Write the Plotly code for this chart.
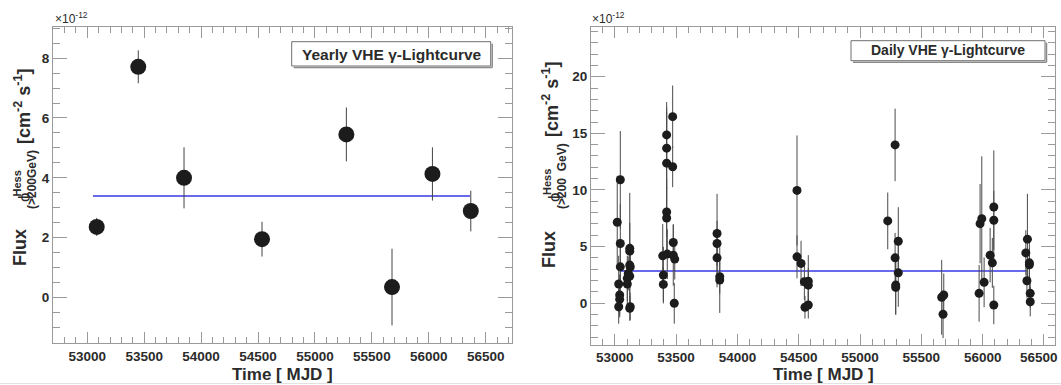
import plotly.graph_objects as go

# ---------------- data ----------------
# Yearly light curve (flux in units of 1e-12 cm^-2 s^-1)
yearly_mjd = [53083, 53448, 53850, 54535, 55276, 55677, 56032, 56369]
yearly_flux = [2.36, 7.71, 4.00, 1.95, 5.45, 0.35, 4.13, 2.89]
yearly_err = [0.30, 0.55, 1.02, 0.58, 0.90, 1.28, 0.89, 0.68]
yearly_const = 3.39
yearly_const_range = [53050, 56362]

# Daily light curve
daily_mjd = [
    53020, 53045, 53045, 53045, 53032, 53040, 53040, 53032,
    53122, 53122, 53122, 53126, 53110, 53102, 53102, 53122, 53122, 53126,
    53472, 53423, 53423, 53423, 53472, 53423, 53423, 53477, 53391, 53428,
    53477, 53489, 53396, 53396, 53485,
    53834, 53834, 53834, 53856, 53856,
    54486, 54486, 54519, 54546, 54578, 54578, 54551, 54578,
    55226, 55286, 55312, 55286, 55312, 55291, 55291,
    55666, 55683, 55677,
    55979, 55993, 55971, 56012, 56061, 56079, 56091, 56091, 56091,
    56365, 56352, 56381, 56381, 56361, 56388, 56388,
]
daily_flux = [
    7.15, 10.9, 5.28, 3.22, 1.70, 0.73, 0.35, -0.30,
    4.85, 4.60, 3.37, 3.20, 2.64, 2.20, 1.70, 2.40, -0.44, -0.30,
    16.47, 14.86, 13.69, 12.37, 12.05, 8.06, 7.53, 5.37, 4.19, 4.34,
    4.25, 3.90, 2.49, 1.67, 0.00,
    6.16, 5.28, 4.01, 2.34, 2.05,
    9.96, 4.10, 3.52, 1.90, 1.95, 1.60, -0.35, -0.15,
    7.27, 13.98, 5.48, 4.01, 2.69, 1.61, 1.40,
    0.53, 0.73, -0.97,
    7.03, 7.47, 0.88, 1.85, 4.25, 3.57, 8.50, 7.33, -0.15,
    5.66, 4.45, 3.57, 3.40, 1.99, 0.88, 0.14,
]
daily_err = [
    4.1, 4.3, 3.5, 2.5, 2.5, 1.8, 1.6, 1.5,
    4.9, 2.5, 2.0, 1.5, 1.5, 2.0, 2.0, 1.6, 1.1, 1.2,
    2.75, 2.9, 3.6, 4.5, 1.8, 2.2, 3.5, 1.6, 2.8, 2.2,
    2.7, 1.8, 2.5, 1.5, 1.8,
    3.5, 2.0, 2.6, 1.5, 2.9,
    4.85, 1.9, 2.0, 1.6, 2.3, 1.5, 1.0, 1.2,
    2.5, 3.2, 3.0, 2.2, 3.0, 2.6, 2.4,
    3.3, 1.9, 2.1,
    3.5, 5.5, 2.5, 2.2, 2.4, 2.2, 5.0, 2.6, 1.7,
    4.0, 2.0, 2.3, 1.5, 1.5, 1.3, 1.3,
]
daily_const = 2.84
daily_const_range = [53042, 56358]

# axis ticks / labels
x_ticks = [53000, 53500, 54000, 54500, 55000, 55500, 56000, 56500]
x_ticklabels = ["53000", "53500", "54000", "54500", "55000", "55500", "56000", "56500"]
# last label of the right panel sits at the canvas edge; drawn separately
x_ticklabels_right = x_ticklabels[:-1] + [""]
y_ticks_left = [0, 2, 4, 6, 8]
y_ticklabels_left = ["0", "2", "4", "6", "8"]
y_ticks_right = [0, 5, 10, 15, 20]
y_ticklabels_right = ["0", "5", "10", "15", "20"]

# ---------------- layout helpers ----------------
W, H = 1061, 385


def X(px):
    return px / W


def Y(py):
    return 1 - py / H


TXT = "#2b2b2b"
AXC = "#9a9a9a"
FONT = "Liberation Sans"

fig = go.Figure()

# Left panel
fig.add_trace(go.Scatter(
    x=yearly_const_range, y=[yearly_const, yearly_const], mode="lines",
    line=dict(color="rgb(105,105,235)", width=2), xaxis="x", yaxis="y",
    showlegend=False, hoverinfo="skip"))
fig.add_trace(go.Scatter(
    x=yearly_mjd, y=yearly_flux, mode="markers",
    marker=dict(size=16, color="#1c1c1c"),
    error_y=dict(type="data", array=yearly_err, visible=True, thickness=1,
                 width=0, color="#444"),
    xaxis="x", yaxis="y", showlegend=False))

# Right panel
fig.add_trace(go.Scatter(
    x=daily_const_range, y=[daily_const, daily_const], mode="lines",
    line=dict(color="rgb(105,105,235)", width=2), xaxis="x2", yaxis="y2",
    showlegend=False, hoverinfo="skip"))
fig.add_trace(go.Scatter(
    x=daily_mjd, y=daily_flux, mode="markers",
    marker=dict(size=9, color="#1c1c1c"),
    error_y=dict(type="data", array=daily_err, visible=True, thickness=1,
                 width=0, color="#4a4a4a"),
    xaxis="x2", yaxis="y2", showlegend=False))

tickfont = dict(family=FONT, size=13.5, color=TXT, weight="bold")

common = dict(showline=True, linecolor=AXC, linewidth=1, mirror="allticks",
              ticks="inside", tickcolor=AXC, tickwidth=1, showgrid=False,
              zeroline=False, tickfont=tickfont, tickmode="array",
              ticklabeloverflow="allow", automargin=False)

fig.update_layout(
    width=W, height=H,
    margin=dict(l=0, r=0, t=0, b=0, autoexpand=False),
    paper_bgcolor="white", plot_bgcolor="white",
    xaxis=dict(domain=[X(53), X(512)], range=[52699, 56731], anchor="y",
               tickvals=x_ticks, ticktext=x_ticklabels, ticklen=11,
               minor=dict(ticks="inside", dtick=100, tick0=53000, ticklen=6,
                          tickcolor=AXC, showgrid=False),
               **common),
    yaxis=dict(domain=[Y(343.3), Y(26.7)], range=[-1.53, 9.05], anchor="x",
               tickvals=y_ticks_left, ticktext=y_ticklabels_left, ticklen=14,
               minor=dict(ticks="inside", dtick=0.5, tick0=0, ticklen=7,
                          tickcolor=AXC, showgrid=False),
               **common),
    xaxis2=dict(domain=[X(591), X(1055)], range=[52806, 56590], anchor="y2",
                tickvals=x_ticks, ticktext=x_ticklabels_right, ticklen=11,
                minor=dict(ticks="inside", dtick=100, tick0=53000, ticklen=6,
                           tickcolor=AXC, showgrid=False),
                **common),
    yaxis2=dict(domain=[Y(345), Y(26.7)], range=[-3.68, 24.41], anchor="x2",
                tickvals=y_ticks_right, ticktext=y_ticklabels_right, ticklen=14,
                minor=dict(ticks="inside", dtick=1, tick0=0, ticklen=7,
                           tickcolor=AXC, showgrid=False),
                **common),
)

ann = []


def add_text(px, py, text, size, bold=True, angle=0, color=TXT, family=FONT,
             xanchor="center"):
    ann.append(dict(x=X(px), y=Y(py), xref="paper", yref="paper", text=text,
                    showarrow=False, textangle=angle, xanchor=xanchor,
                    yanchor="middle",
                    font=dict(family=family, size=size, color=color,
                              weight="bold" if bold else "normal")))


# last x tick label of the right panel, kept inside the canvas
add_text(1060, 357, x_ticklabels[-1], 13.5, xanchor="right")

# x-axis titles
add_text(282.5, 374, "Time [ MJD ]", 17)
add_text(823, 374, "Time [ MJD ]", 17)

# left y-axis title pieces
add_text(20, 248, "Flux", 18, angle=-90)
add_text(25, 197, "ϕ", 17, bold=False, angle=-90)
add_text(16.5, 184, "Hess", 11, angle=-90)
add_text(32, 180, "(&gt;200GeV)", 12, angle=-90)
add_text(22, 107, "[cm<sup>-2</sup> s<sup>-1</sup>]", 18, angle=-90)

# right y-axis title pieces
add_text(549, 250, "Flux", 18, angle=-90)
add_text(555, 197, "ϕ", 17, bold=False, angle=-90)
add_text(547, 182, "Hess", 11, angle=-90)
add_text(562, 176, "(&gt;200&nbsp;&nbsp;GeV)", 12, angle=-90)
add_text(551, 100, "[cm<sup>-2</sup> s<sup>-1</sup>]", 18, angle=-90)

# exponent labels
add_text(71, 18, "×10<sup>-12</sup>", 12, bold=False)
add_text(608, 18, "×10<sup>-12</sup>", 12, bold=False)

# legend texts
add_text(391.5, 54, "Yearly VHE γ-Lightcurve", 15.5)
add_text(948, 50, "Daily VHE γ-Lightcurve", 14)

fig.update_layout(annotations=ann)

shapes = []


def box(x0, y0, x1, y1):
    shapes.append(dict(type="rect", xref="paper", yref="paper",
                       x0=X(x0), x1=X(x1), y0=Y(y1), y1=Y(y0),
                       line=dict(color="#6f6f6f", width=1),
                       fillcolor="white", layer="below"))
    # shadow
    shapes.append(dict(type="line", xref="paper", yref="paper",
                       x0=X(x1 + 1.5), x1=X(x1 + 1.5), y0=Y(y0 + 2), y1=Y(y1 + 1.5),
                       line=dict(color="#8a8a8a", width=1.5)))
    shapes.append(dict(type="line", xref="paper", yref="paper",
                       x0=X(x0 + 2), x1=X(x1 + 1.5), y0=Y(y1 + 1.5), y1=Y(y1 + 1.5),
                       line=dict(color="#8a8a8a", width=1.5)))


box(291.7, 41.7, 490.7, 66)
box(851, 40.7, 1045, 60.7)

# faint bottom border line of the canvas
shapes.append(dict(type="line", xref="paper", yref="paper",
                   x0=0, x1=1, y0=Y(383.5), y1=Y(383.5),
                   line=dict(color="#e2e2e2", width=1)))

fig.update_layout(shapes=shapes)

fig.write_html("out.html")
